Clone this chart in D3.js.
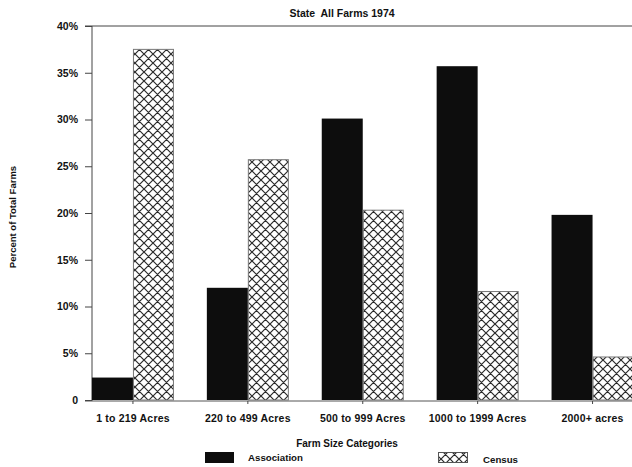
<!DOCTYPE html>
<html><head><meta charset="utf-8">
<script src="https://cdn.jsdelivr.net/npm/d3@7"></script>
<style>body{margin:0;background:#fff}svg{display:block}text{font-family:"Liberation Sans",Arial,sans-serif;font-weight:bold;fill:#111}</style>
</head><body><svg id="c" width="632" height="467"></svg>
<script>
const categories = ["1 to 219 Acres","220 to 499 Acres","500 to 999 Acres","1000 to 1999 Acres","2000+ acres"];
const association = [2.4, 12.0, 30.1, 35.7, 19.8];
const census = [37.5, 25.7, 20.3, 11.6, 4.6];
const seriesNames = ["Association","Census"];
const yTicks = [0,5,10,15,20,25,30,35,40];

const svg = d3.select("#c");
const defs = svg.append("defs");
const P = 9;
const pat = defs.append("pattern").attr("id","hatch").attr("patternUnits","userSpaceOnUse")
  .attr("width",P).attr("height",P);
pat.append("rect").attr("width",P).attr("height",P).attr("fill","#fff");
pat.append("path").attr("d",`M0,0L${P},${P}M${P},0L0,${P}M-1,1L1,-1M${P-1},${P+1}L${P+1},${P-1}M-1,${P-1}L1,${P+1}M${P-1},-1L${P+1},1`)
  .attr("stroke","#2a2a2a").attr("stroke-width",1.2);

const x0 = 92, yTop = 26, yBot = 400;
const x = d3.scaleBand().domain(categories).range([75.5, 650]).paddingInner(0).paddingOuter(0);
const y = d3.scaleLinear().domain([0,40]).range([yBot, yTop]);
const bw = 41;

// frame lines
svg.append("line").attr("x1",85).attr("x2",632).attr("y1",yTop).attr("y2",yTop).attr("stroke","#444").attr("stroke-width",1);
svg.append("line").attr("x1",85).attr("x2",632).attr("y1",yBot+1).attr("y2",yBot+1).attr("stroke","#555").attr("stroke-width",1);
svg.append("line").attr("x1",x0).attr("x2",x0).attr("y1",yTop).attr("y2",yBot+1).attr("stroke","#444").attr("stroke-width",1);

// y axis
const ya = svg.append("g").attr("transform",`translate(${x0},0)`)
  .call(d3.axisLeft(y).tickValues(yTicks).tickSize(7).tickFormat(d=> d===0?"0":d+"%"));
ya.select(".domain").remove();
ya.selectAll("line").attr("stroke","#444");
ya.selectAll("text").attr("font-size",10.5).attr("x",-14).style("font-family","'Liberation Sans',Arial,sans-serif").style("font-weight","bold");

// x axis ticks
const xa = svg.append("g").attr("transform",`translate(0,${yBot+1})`)
  .call(d3.axisBottom(x).tickSize(3).tickPadding(11));
xa.select(".domain").remove();
xa.selectAll("line").attr("stroke","#444");
xa.selectAll("text").attr("font-size",10.5).attr("letter-spacing",0.2).style("font-family","'Liberation Sans',Arial,sans-serif").style("font-weight","bold");

// bars
const cx = d => x(d) + x.bandwidth()/2;
svg.append("g").selectAll("rect").data(categories).join("rect")
  .attr("x", d=>cx(d)-bw).attr("width",bw)
  .attr("y",(d,i)=>y(association[i])).attr("height",(d,i)=>yBot-y(association[i]))
  .attr("fill","#0d0d0d");
svg.append("g").selectAll("rect").data(categories).join("rect")
  .attr("x", d=>cx(d)+0.5).attr("width",bw-1)
  .attr("y",(d,i)=>y(census[i])).attr("height",(d,i)=>yBot-y(census[i]))
  .attr("fill","url(#hatch)").attr("stroke","#777").attr("stroke-width",1);

// title
svg.append("text").attr("x",342).attr("y",17).attr("text-anchor","middle").attr("font-size",10.5)
  .style("white-space","pre").text("State  All Farms 1974");
// y label
svg.append("text").attr("transform","translate(16,217) rotate(-90)").attr("text-anchor","middle").attr("font-size",9.5).text("Percent of Total Farms");
// x label
svg.append("text").attr("x",347).attr("y",447).attr("text-anchor","middle").attr("font-size",10).text("Farm Size Categories");

// legend
const lg = svg.append("g");
lg.append("rect").attr("x",205).attr("y",452).attr("width",29).attr("height",11).attr("fill","#0d0d0d");
lg.append("text").attr("x",248).attr("y",461).attr("font-size",9.7).text(seriesNames[0]);
lg.append("rect").attr("x",438.5).attr("y",452.5).attr("width",29).attr("height",10).attr("fill","url(#hatch)").attr("stroke","#555");
lg.append("text").attr("x",483).attr("y",463).attr("font-size",9.7).text(seriesNames[1]);
</script></body></html>
